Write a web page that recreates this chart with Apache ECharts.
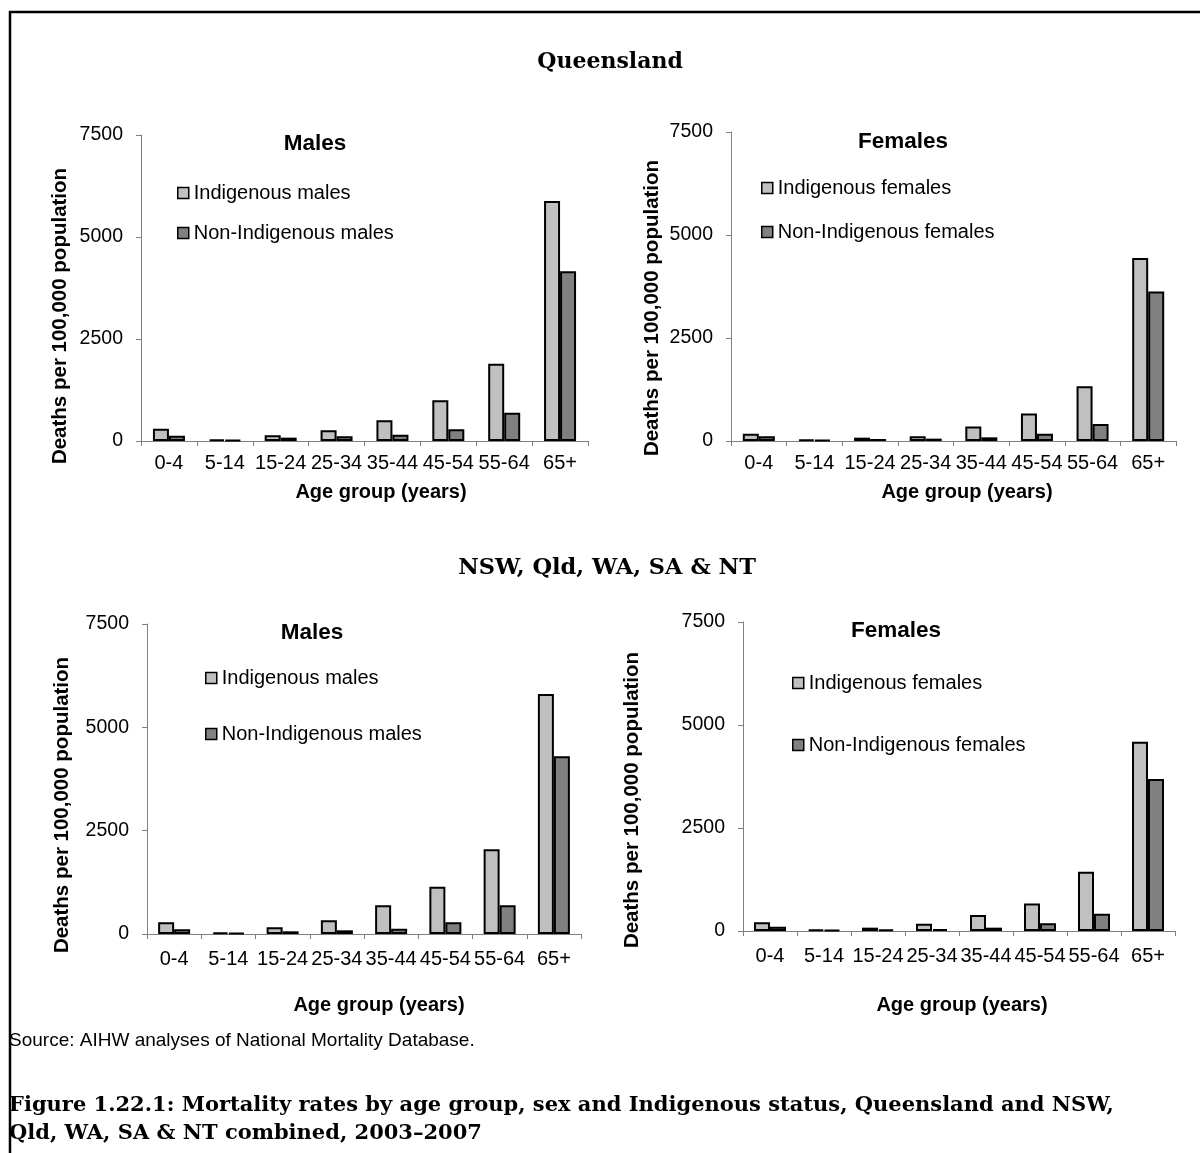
<!DOCTYPE html>
<html>
<head>
<meta charset="utf-8">
<script src="https://cdn.jsdelivr.net/npm/echarts@6/dist/echarts.min.js"></script>
<style>
html,body{margin:0;padding:0;background:#fff;}
#chart{width:1200px;height:1153px;}
</style>
</head>
<body>
<div id="chart"></div>
<script>
// ---- data ----
const categories = ['0-4','5-14','15-24','25-34','35-44','45-54','55-64','65+'];
const yTicks = [0, 2500, 5000, 7500];

const qldIndigenousMales      = [302, 40, 139, 261, 506, 997, 1895, 5882];
const qldNonIndigenousMales   = [131, 20, 82, 114, 155, 286, 694, 4158];
const qldIndigenousFemales    = [179, 32, 81, 114, 349, 666, 1331, 4440];
const qldNonIndigenousFemales = [114, 24, 49, 57, 89, 179, 414, 3628];

const combIndigenousMales      = [282, 40, 161, 331, 694, 1145, 2048, 5806];
const combNonIndigenousMales   = [113, 24, 65, 89, 129, 282, 694, 4298];
const combIndigenousFemales    = [210, 32, 81, 178, 387, 670, 1437, 4593];
const combNonIndigenousFemales = [105, 24, 40, 48, 81, 186, 420, 3689];

const sectionTitles = ['Queensland', 'NSW, Qld, WA, SA & NT'];
const panelTitles = ['Males', 'Females', 'Males', 'Females'];
const yAxisTitle = 'Deaths per 100,000 population';
const xAxisTitle = 'Age group (years)';
const sourceText = 'Source: AIHW analyses of National Mortality Database.';
const captionLines = ['Figure 1.22.1: Mortality rates by age group, sex and Indigenous status, Queensland and NSW,',
                      'Qld, WA, SA & NT combined, 2003\u20132007'];

// ---- layout ----
const SANS = 'Liberation Sans, Arial, sans-serif';
const SERIF = 'DejaVu Serif, serif';
const LIGHT = '#c0c0c0', DARK = '#808080', AXIS = '#808080';

const panels = [
  {grid:{left:141, top:135, width:447, height:306}, names:['Indigenous males','Non-Indigenous males'],
   data:[qldIndigenousMales, qldNonIndigenousMales], legend:{left:177, top:183, gap:20},
   title:{x:315, y:144}, yName:{x:60, y:316}, xName:{x:381, y:492}},
  {grid:{left:731, top:132, width:445, height:309}, names:['Indigenous females','Non-Indigenous females'],
   data:[qldIndigenousFemales, qldNonIndigenousFemales], legend:{left:761, top:178, gap:24},
   title:{x:903, y:142}, yName:{x:652, y:308}, xName:{x:967, y:492}},
  {grid:{left:147, top:624, width:434, height:310}, names:['Indigenous males','Non-Indigenous males'],
   data:[combIndigenousMales, combNonIndigenousMales], legend:{left:205, top:668, gap:36},
   title:{x:312, y:633}, yName:{x:62, y:805}, xName:{x:379, y:1005}},
  {grid:{left:743, top:622, width:432, height:309}, names:['Indigenous females','Non-Indigenous females'],
   data:[combIndigenousFemales, combNonIndigenousFemales], legend:{left:792, top:673, gap:42},
   title:{x:896, y:631}, yName:{x:632, y:800}, xName:{x:962, y:1005}}
];

const grids = [], xAxes = [], yAxes = [], series = [], legends = [], graphics = [];

panels.forEach((p, i) => {
  grids.push(Object.assign({containLabel:false}, p.grid));
  xAxes.push({
    type:'category', gridIndex:i, data:categories, boundaryGap:true,
    axisLine:{show:true, lineStyle:{color:AXIS, width:1}},
    axisTick:{show:true, length:5, alignWithLabel:false, interval:0, lineStyle:{color:AXIS}},
    axisLabel:{interval:0, fontSize:20, fontFamily:SANS, color:'#000', margin:i < 2 ? 12 : 15},
    splitLine:{show:false}
  });
  yAxes.push({
    type:'value', gridIndex:i, min:yTicks[0], max:yTicks[yTicks.length-1], interval:yTicks[1]-yTicks[0],
    axisLine:{show:true, lineStyle:{color:AXIS, width:1}},
    axisTick:{show:true, length:5, lineStyle:{color:AXIS}},
    axisLabel:{fontSize:19.5, fontFamily:SANS, color:'#000', margin:18, formatter:(v) => String(v)},
    splitLine:{show:false}
  });
  p.names.forEach((nm, k) => {
    series.push({
      type:'bar', name:nm, xAxisIndex:i, yAxisIndex:i, data:p.data[k],
      barWidth:16, barGap:'0%',
      itemStyle:{color:k === 0 ? LIGHT : DARK, borderColor:'#000', borderWidth:2},
      emphasis:{disabled:true}, animation:false
    });
  });
  legends.push({
    data:p.names, orient:'vertical', left:p.legend.left, top:p.legend.top,
    itemGap:p.legend.gap, itemWidth:11, itemHeight:11, icon:'rect',
    itemStyle:{borderColor:'#000', borderWidth:1.5},
    textStyle:{fontSize:20, fontFamily:SANS, color:'#000', lineHeight:20},
    selectedMode:false, padding:0
  });
  graphics.push({type:'text', x:p.title.x, y:p.title.y,
    style:{text:panelTitles[i], font:'bold 22.5px ' + SANS, fill:'#000', textAlign:'center', textVerticalAlign:'middle'}});
  graphics.push({type:'text', x:p.yName.x, y:p.yName.y, rotation:Math.PI/2,
    style:{text:yAxisTitle, font:'bold 20.5px ' + SANS, fill:'#000', textAlign:'center', textVerticalAlign:'middle'}});
  graphics.push({type:'text', x:p.xName.x, y:p.xName.y,
    style:{text:xAxisTitle, font:'bold 20px ' + SANS, fill:'#000', textAlign:'center', textVerticalAlign:'middle'}});
});

// section titles, frame, source, caption
graphics.push({type:'text', x:610, y:62,
  style:{text:sectionTitles[0], font:'bold 22px ' + SERIF, fill:'#000', textAlign:'center', textVerticalAlign:'middle'}});
graphics.push({type:'text', x:607, y:568,
  style:{text:sectionTitles[1], font:'bold 22.5px ' + SERIF, fill:'#000', textAlign:'center', textVerticalAlign:'middle'}});
graphics.push({type:'polyline', shape:{points:[[10,1153],[10,12],[1200,12]]},
  style:{stroke:'#000', lineWidth:2.5, fill:null}});
graphics.push({type:'text', x:9, y:1041,
  style:{text:sourceText, font:'19px ' + SANS, fill:'#000', textAlign:'left', textVerticalAlign:'middle'}});
captionLines.forEach((t, j) => {
  graphics.push({type:'text', x:9, y:1106 + j * 28,
    style:{text:t, font:'bold 21px ' + SERIF, fill:'#000', textAlign:'left', textVerticalAlign:'middle'}});
});

const chart = echarts.init(document.getElementById('chart'), null, {renderer:'canvas'});
chart.setOption({
  animation:false,
  backgroundColor:'#fff',
  grid:grids, xAxis:xAxes, yAxis:yAxes, series:series, legend:legends,
  graphic:graphics, tooltip:{show:false}
});
</script>
</body>
</html>
